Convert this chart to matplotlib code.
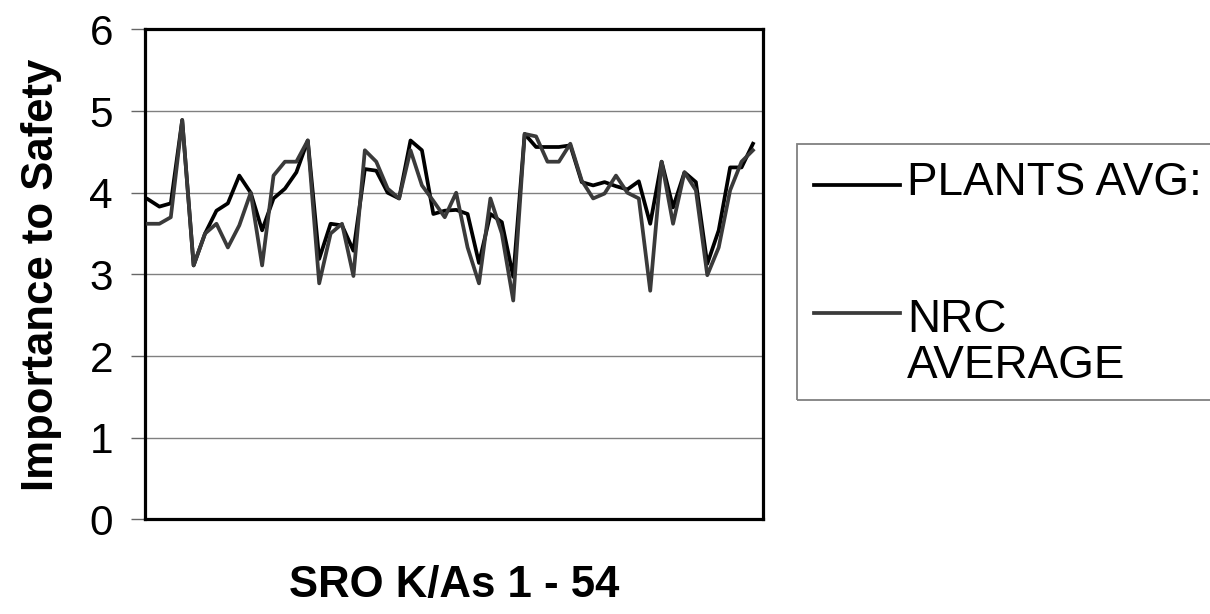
import numpy as np
import matplotlib
matplotlib.use('Agg')
import matplotlib.pyplot as plt
from matplotlib.lines import Line2D
from matplotlib.patches import Rectangle

plt.rcParams['font.family'] = ['Liberation Sans', 'DejaVu Sans']

# values, K/A 1..54
ka_numbers = np.arange(1, 55)
plants_avg = [3.92, 3.83, 3.87, 4.89, 3.11, 3.50, 3.78, 3.87, 4.21, 4.00,
              3.54, 3.93, 4.05, 4.25, 4.64, 3.19, 3.62, 3.60, 3.29, 4.29,
              4.27, 4.00, 3.93, 4.64, 4.52, 3.74, 3.78, 3.79, 3.74, 3.14,
              3.74, 3.64, 2.97, 4.72, 4.56, 4.56, 4.56, 4.58, 4.13, 4.09,
              4.13, 4.08, 4.04, 4.14, 3.62, 4.38, 3.82, 4.25, 4.13, 3.13,
              3.54, 4.31, 4.31, 4.60]
nrc_avg = [3.62, 3.62, 3.70, 4.89, 3.11, 3.50, 3.62, 3.33, 3.60, 4.00,
           3.11, 4.21, 4.38, 4.38, 4.64, 2.89, 3.50, 3.62, 2.98, 4.52,
           4.38, 4.05, 3.93, 4.52, 4.09, 3.90, 3.70, 4.00, 3.33, 2.89,
           3.93, 3.50, 2.68, 4.72, 4.69, 4.38, 4.38, 4.60, 4.15, 3.93,
           3.99, 4.21, 4.00, 3.93, 2.80, 4.38, 3.62, 4.25, 4.03, 2.99,
           3.33, 4.03, 4.38, 4.52]
y_ticks = [0, 1, 2, 3, 4, 5, 6]
series_labels = ['PLANTS AVG:', ['NRC', 'AVERAGE']]

W, H = 1210, 614
fig = plt.figure(figsize=(W / 100, H / 100), dpi=100)
ax = fig.add_axes([145 / W, 1 - 519.4 / H, 618 / W, 490 / H])

l1, = ax.plot(ka_numbers, plants_avg, color='black', lw=2.7, zorder=3)
l2, = ax.plot(ka_numbers, nrc_avg, color='#3a3a3a', lw=2.7, zorder=4)

ax.set_xlim(0.74, 54.88)
ax.set_ylim(0, 6)
ax.set_yticks(y_ticks)
ax.set_xticks([])
ax.yaxis.grid(True, color='#808080', lw=1.0)
ax.set_axisbelow(True)
for s in ax.spines.values():
    s.set_linewidth(2.3)
    s.set_color('black')
ax.tick_params(axis='y', length=10, width=1, color='#666666', pad=13,
               labelsize=30.5)

ax.set_ylabel('Importance to Safety', fontsize=31.5, fontweight='bold',
              va='center')
ax.yaxis.set_label_coords((42 - 145) / 618, 0.5)
ax.set_xlabel('SRO K/As 1 - 54', fontsize=31.5, fontweight='bold',
              va='baseline')
ax.xaxis.set_label_coords(0.5, (519.4 - 597) / 490)

# legend drawn by hand (Excel style box cut off at the right)
def px(x, y):
    return x / W, 1 - y / H

x0, y0 = px(797, 400)
fig.add_artist(Rectangle((x0, y0), (1220 - 797) / W, (400 - 144) / H,
                         transform=fig.transFigure, fill=False,
                         edgecolor='#808080', lw=1.3))
for line, ly in [(l1, 185), (l2, 313)]:
    (xa, ya), (xb, yb) = px(814, ly), px(900, ly)
    fig.add_artist(Line2D([xa, xb], [ya, yb], transform=fig.transFigure,
                          color=line.get_color(), lw=line.get_linewidth()))
fig.text(*px(907, 195), series_labels[0], fontsize=33, va='baseline')
fig.text(*px(907, 332), series_labels[1][0], fontsize=33, va='baseline')
fig.text(*px(907, 378), series_labels[1][1], fontsize=33, va='baseline')

fig.savefig('out.png', dpi=100)
